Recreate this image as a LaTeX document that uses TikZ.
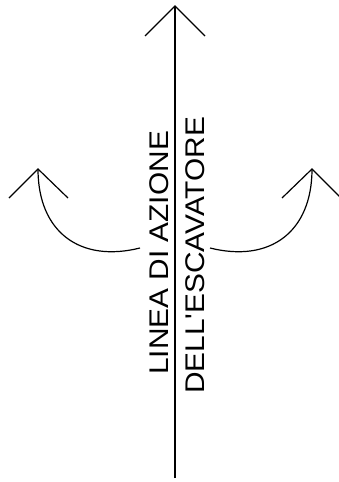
\documentclass[tikz,border=0pt]{standalone}
\usepackage{fontspec}
\setmainfont{Liberation Sans}
\newfontfamily\lblfont{Liberation Sans}[Ligatures=TeXOff]
\begin{document}
\begin{tikzpicture}[x=1pt,y=-1pt,
  ln/.style={line width=1.2pt,black},
  lbl/.style={anchor=base west,rotate=90,xscale=1.105,inner sep=0pt,font=\lblfont\fontsize{27}{32}\selectfont}]
\useasboundingbox (0,0) rectangle (338,482);
% main axis
\coordinate (mtop) at (175,6);
\coordinate (mbot) at (175,478);
\coordinate (ml) at (145,36);
\coordinate (mr) at (205,36);
\draw[ln] (mbot) -- (mtop);
\draw[ln] (ml) -- (mtop) -- (mr);
% left curved arrow
\coordinate (la) at (38,169);
\coordinate (ll) at (9,198);
\coordinate (lr) at (68,198);
\coordinate (le) at (140,248);
\draw[ln] (le) .. controls (80,263) and (38,232) .. (la);
\draw[ln] (ll) -- (la) -- (lr);
% right curved arrow
\coordinate (ra) at (312,169);
\coordinate (rl) at (282,198);
\coordinate (rr) at (341,198);
\coordinate (re) at (210,248);
\draw[ln] (re) .. controls (270,263) and (312,232) .. (ra);
\draw[ln] (rl) -- (ra) -- (rr);
% labels
\node[lbl] (t1) at (168.5,375) {LINEA DI AZIONE};
\node[lbl] (t2) at (204,394) {DELL'ESCAVATORE};
\end{tikzpicture}
\end{document}
